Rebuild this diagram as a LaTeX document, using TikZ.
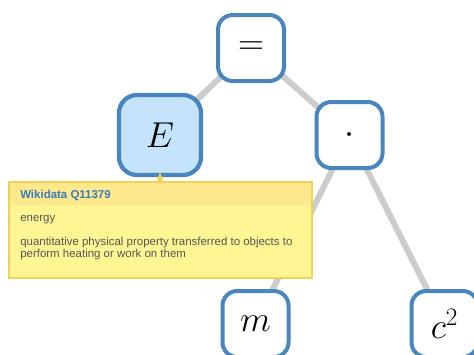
\RequirePackage{fix-cm}
\documentclass[tikz,border=0pt]{standalone}
\usepackage{fontspec}
\newfontfamily\tipfont{Liberation Sans}
\usetikzlibrary{backgrounds}
\definecolor{nodeblue}{HTML}{4A86BE}
\definecolor{lightfill}{HTML}{C6E3FC}
\definecolor{edgegray}{HTML}{CCCCCC}
\definecolor{tiphead}{HTML}{FDE88B}
\definecolor{tipbody}{HTML}{FFF693}
\definecolor{tipborder}{HTML}{F0D254}
\definecolor{titleblue}{HTML}{3A7BBD}
\definecolor{desctext}{HTML}{555555}
\tikzset{
  opbox/.style={draw=nodeblue, line width=3pt, fill=white, rounded corners=11pt,
    minimum width=49.5pt, minimum height=49.5pt, inner sep=0pt,
    font=\fontsize{27}{32}\selectfont},
  selbox/.style={opbox, fill=lightfill, line width=3.2pt, rounded corners=13.5pt,
    minimum width=61.5pt, minimum height=60pt},
  treeedge/.style={draw=edgegray, line width=4.5pt},
  tiptitle/.style={anchor=base west, inner sep=0pt, text=titleblue,
    font=\tipfont\bfseries\fontsize{8.6}{10}\selectfont},
  tiptext/.style={anchor=base west, inner sep=0pt, text=desctext,
    font=\tipfont\fontsize{8.6}{10}\selectfont}
}
\begin{document}
\begin{tikzpicture}[x=0.75pt,y=-0.75pt]
\useasboundingbox (0,0) rectangle (474,354);
\clip (0,0) rectangle (474,354);
% nodes
\node[opbox] (eq) at (251,48) {$=$};
\node[selbox] (E) at (160,135) {$E$};
\node[opbox] (dot) at (349.5,135) {$\cdot$};
\node[opbox] (m) at (255.5,324) {$m$};
\node[opbox] (c) at (444.5,324) {$c^2$};
% edges behind
\begin{pgfonlayer}{background}
\draw[treeedge] (eq.center) -- (E.center);
\draw[treeedge] (eq.center) -- (dot.center);
\draw[treeedge] (dot.center) -- (m.center);
\draw[treeedge] (dot.center) -- (c.center);
\end{pgfonlayer}
% tooltip
\fill[tipbody] (9,182) rectangle (312,278);
\fill[tiphead] (9,182) rectangle (312,205);
\draw[tipborder, line width=1.1pt] (9,182) rectangle (312,278);
\fill[tipborder] (156.5,182) -- (160,172) -- (163.5,182) -- cycle;
\node[tiptitle] (title) at (20,198) {Wikidata Q11379};
\node[tiptext] (d1) at (20,221.5) {energy};
\node[tiptext] (d2) at (20,245.5) {quantitative physical property transferred to objects to};
\node[tiptext] (d3) at (20,257.5) {perform heating or work on them};
\end{tikzpicture}
\end{document}
